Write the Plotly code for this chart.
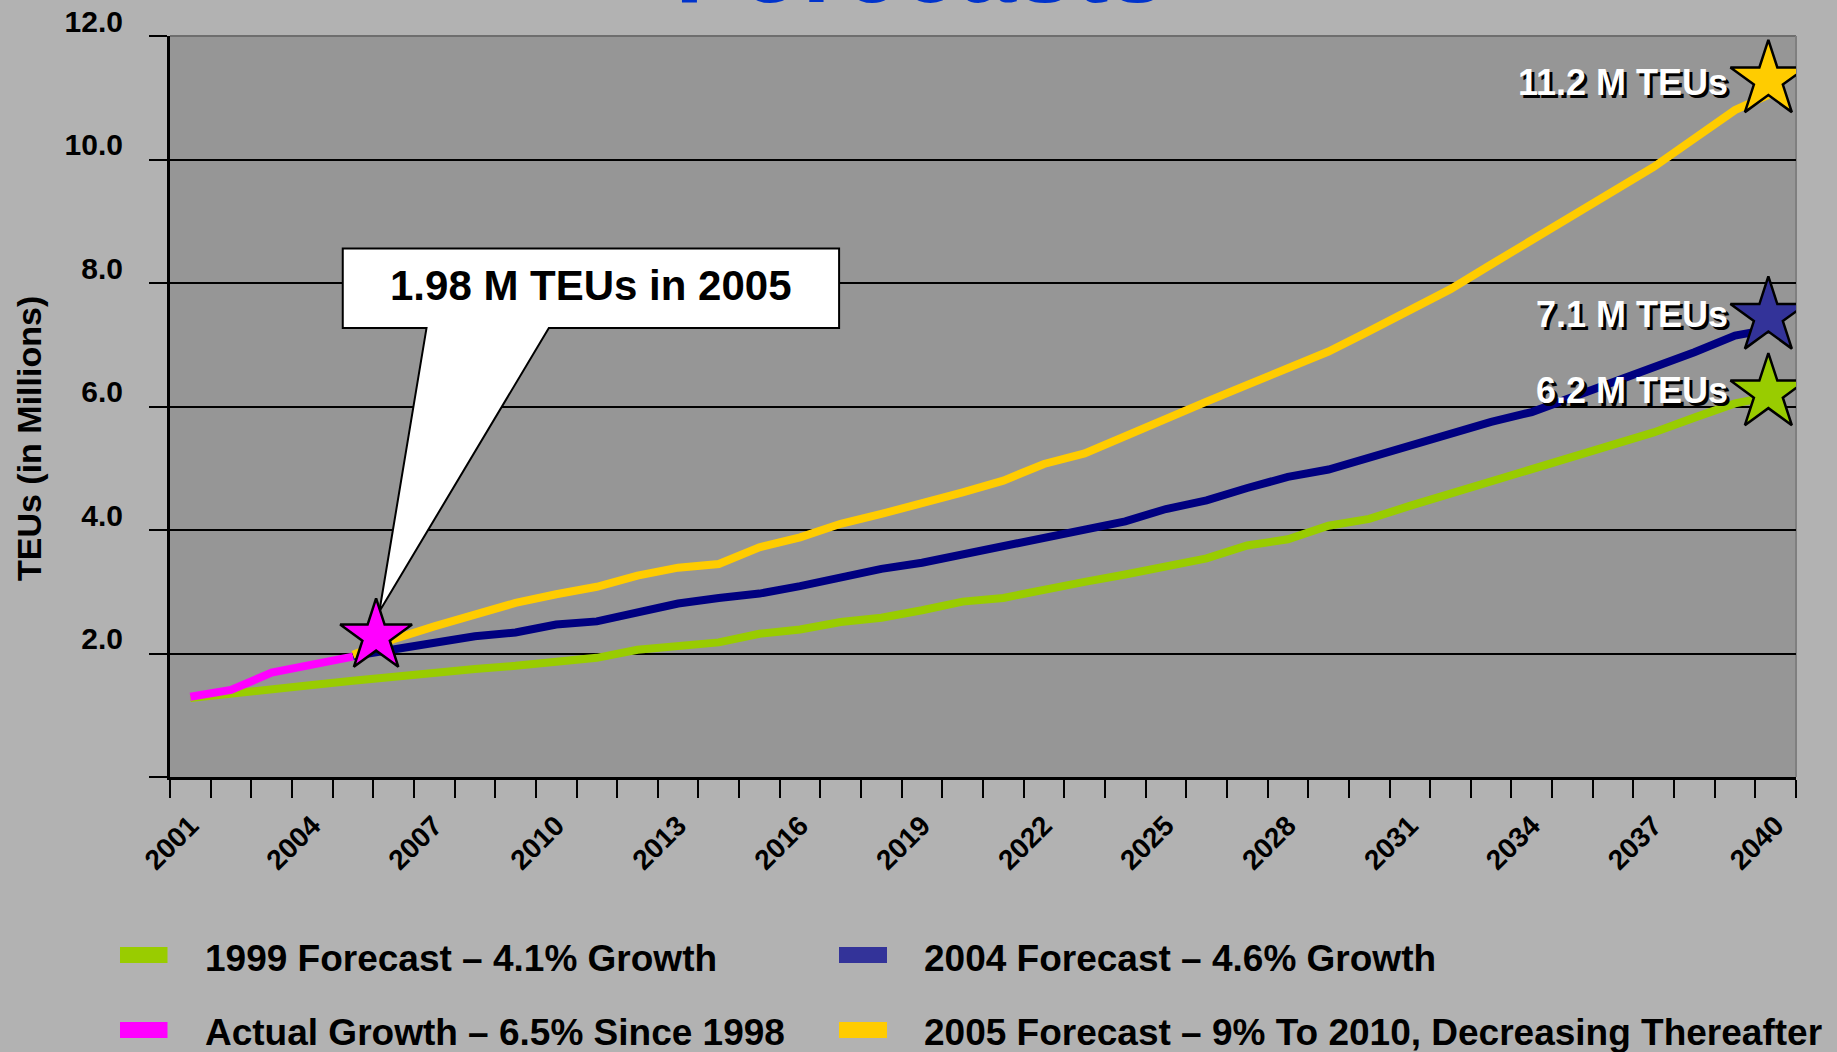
import plotly.graph_objects as go

# ---------------- data ----------------
years = list(range(2001, 2041))

actual_years = [2001, 2002, 2003, 2004, 2005]
actual_values = [1.30, 1.41, 1.69, 1.83, 1.95]

forecast_1999 = [1.28, 1.36, 1.42, 1.49, 1.56, 1.63, 1.68, 1.75, 1.80, 1.86,
                 1.93, 2.06, 2.13, 2.18, 2.32, 2.39, 2.51, 2.58, 2.70, 2.84,
                 2.90, 3.04, 3.16, 3.28, 3.41, 3.54, 3.75, 3.85, 4.07, 4.18,
                 4.39, 4.59, 4.79, 4.98, 5.18, 5.38, 5.58, 5.82, 6.05, 6.18]

forecast_years = list(range(2005, 2041))
forecast_2004 = [1.96, 2.06, 2.17, 2.28, 2.34, 2.47, 2.52, 2.67, 2.81, 2.90,
                 2.97, 3.09, 3.23, 3.37, 3.47, 3.61, 3.74, 3.89, 4.00, 4.14,
                 4.34, 4.48, 4.68, 4.86, 4.98, 5.18, 5.38, 5.56, 5.75, 5.91,
                 6.15, 6.39, 6.64, 6.88, 7.15, 7.27]
forecast_2005 = [1.98, 2.23, 2.44, 2.63, 2.82, 2.96, 3.08, 3.26, 3.39, 3.45,
                 3.72, 3.88, 4.10, 4.26, 4.42, 4.61, 4.80, 5.07, 5.24, 5.53,
                 5.81, 6.08, 6.35, 6.62, 6.89, 7.22, 7.56, 7.90, 8.30, 8.69,
                 9.07, 9.47, 9.88, 10.34, 10.80, 11.10]

tick_years = list(range(2001, 2041, 3))
tick_labels = [str(y) for y in tick_years]
boundary_ticks = [y - 0.5 for y in years] + [years[-1] + 0.5]

y_ticks = [0, 2, 4, 6, 8, 10, 12]
y_tick_labels = ["", "2.0", "4.0", "6.0", "8.0", "10.0", "12.0"]
y_grid = [2, 4, 6, 8, 10]

star_years = [2005.57, 2039.82, 2039.82, 2039.82]
star_values = [2.28, 11.29, 7.46, 6.22]
star_labels = ["", "11.2 M TEUs", "7.1 M TEUs", "6.2 M TEUs"]

callout_text = "1.98 M TEUs in 2005"
title_text = "Forecasts"
y_title = "TEUs (in Millions)"

legend_names = ["1999 Forecast \u2013 4.1% Growth",
                "Actual Growth \u2013 6.5% Since 1998",
                "2004 Forecast \u2013 4.6% Growth",
                "2005 Forecast \u2013 9% To 2010, Decreasing Thereafter"]

# ---------------- styles ----------------
GREEN = "#99CC00"
NAVY = "#000080"
BLUE_SW = "#333399"
YELLOW = "#FFCC00"
MAGENTA = "#FF00FF"
PAPER = "#b2b2b2"
PLOT = "#969696"
FONT = "Liberation Sans, Arial, Helvetica, sans-serif"

W, H = 1837, 1052
L, R, T, B = 170, 41, 36, 275
PW, PH = W - L - R, H - T - B


def px_x(px):
    return (px - L) / PW


def px_y(py):
    return (T + PH - py) / PH


fig = go.Figure()

fig.add_trace(go.Scatter(x=years, y=forecast_1999, mode="lines", name=legend_names[0],
                         line=dict(color=GREEN, width=8)))
fig.add_trace(go.Scatter(x=forecast_years, y=forecast_2004, mode="lines", name=legend_names[2],
                         line=dict(color=NAVY, width=8)))
fig.add_trace(go.Scatter(x=forecast_years, y=forecast_2005, mode="lines", name=legend_names[3],
                         line=dict(color=YELLOW, width=8)))
fig.add_trace(go.Scatter(x=actual_years, y=actual_values, mode="lines", name=legend_names[1],
                         line=dict(color=MAGENTA, width=8)))
fig.add_trace(go.Scatter(x=star_years, y=star_values, mode="markers", showlegend=False,
                         marker=dict(symbol="star", size=[54, 57, 57, 57], opacity=1,
                                     color=[MAGENTA, YELLOW, BLUE_SW, GREEN],
                                     line=dict(color="black", width=2.5))))

# callout box with pointer (data coordinates)
bx0, bx1 = 2004.75, 2016.96
by0, by1 = 7.27, 8.56
px0, px1 = 2006.81, 2009.82
tip_x, tip_y = star_years[0] + 0.08, star_values[0] + 0.40
path = (f"M {bx0},{by1} L {bx1},{by1} L {bx1},{by0} L {px1},{by0} "
        f"L {tip_x},{tip_y} L {px0},{by0} L {bx0},{by0} Z")
callout = dict(type="path", path=path, xref="x", yref="y",
               fillcolor="white", line=dict(color="black", width=2))
try:
    fig.add_shape(layer="between", **callout)
except Exception:
    fig.add_shape(layer="above", **callout)

fig.add_annotation(x=(bx0 + bx1) / 2, y=(by0 + by1) / 2, xref="x", yref="y",
                   text=callout_text, showarrow=False, yshift=3,
                   font=dict(family=FONT, size=42, color="black", weight="bold"))

# plot frame (top & right)
fig.add_shape(type="line", xref="paper", yref="paper", x0=0, x1=1, y0=1, y1=1,
              line=dict(color="#6e6e6e", width=2), layer="below")
fig.add_shape(type="line", xref="paper", yref="paper", x0=1, x1=1, y0=0, y1=1,
              line=dict(color="#7f7f7f", width=2), layer="below")

# star labels (white with black shadow)
label_yshift = [0, -3, 2, 2]
for sx, sy, lab, ys in zip(star_years, star_values, star_labels, label_yshift):
    if not lab:
        continue
    for col, dx, dy in (("black", 3, -3), ("white", 0, 0)):
        fig.add_annotation(x=sx, y=sy, xref="x", yref="y", text=lab, showarrow=False,
                           xanchor="right", yanchor="middle", xshift=-38 + dx, yshift=ys + dy,
                           font=dict(family=FONT, size=36, color=col, weight="bold"))

# partially visible title
fig.add_annotation(x=px_x(920), y=px_y(26), xref="paper", yref="paper", text=title_text,
                   showarrow=False, xanchor="center", yanchor="bottom",
                   font=dict(family=FONT, size=104, color="#0033CC", weight="bold"))

# y-axis title
fig.add_annotation(x=px_x(29), y=px_y(439), xref="paper", yref="paper", text=y_title,
                   showarrow=False, textangle=-90, xanchor="center", yanchor="middle",
                   font=dict(family=FONT, size=34, color="black", weight="bold"))

# manual legend
legend_cols = [GREEN, MAGENTA, BLUE_SW, YELLOW]
sw_x = [(120, 167.5), (120, 167.5), (839, 887), (839, 887)]
sw_y = [(947, 963), (1022, 1038), (947, 963), (1022, 1038)]
txt_x = [203, 203, 922, 922]
txt_y = [959, 1032, 959, 1032]
for name, col, (sx0, sx1), (sy0, sy1), tx, ty in zip(legend_names, legend_cols, sw_x, sw_y, txt_x, txt_y):
    fig.add_shape(type="rect", xref="paper", yref="paper",
                  x0=px_x(sx0), x1=px_x(sx1), y0=px_y(sy1), y1=px_y(sy0),
                  fillcolor=col, line=dict(width=0))
    fig.add_annotation(x=px_x(tx), y=px_y(ty), xref="paper", yref="paper", text=name,
                       showarrow=False, xanchor="left", yanchor="middle",
                       font=dict(family=FONT, size=37, color="black", weight="bold"))

fig.update_layout(
    width=W, height=H,
    margin=dict(l=L, r=R, t=T, b=B, pad=0, autoexpand=False),
    paper_bgcolor=PAPER, plot_bgcolor=PLOT,
    showlegend=False,
    font=dict(family=FONT, color="black"),
    xaxis=dict(range=[2000.5, 2040.5], tickmode="array", tickvals=tick_years, ticktext=tick_labels,
               automargin=False,
               tickangle=-45, ticks="outside", ticklen=18, tickcolor="rgba(0,0,0,0)",
               tickfont=dict(family=FONT, size=28, color="black", weight="bold"),
               showgrid=False, zeroline=False, showline=True, linecolor="black", linewidth=3,
               minor=dict(tickmode="array", tickvals=boundary_ticks, ticks="outside",
                          ticklen=18, tickwidth=2, tickcolor="black", showgrid=False)),
    yaxis=dict(range=[0, 12], tickmode="array", tickvals=y_ticks, ticktext=y_tick_labels,
               automargin=False,
               ticks="outside", ticklen=18, tickwidth=2, tickcolor="black",
               ticklabelstandoff=20, ticklabelshift=-15,
               tickfont=dict(family=FONT, size=30, color="black", weight="bold"),
               showgrid=False, zeroline=False, showline=True, linecolor="black", linewidth=3,
               minor=dict(tickmode="array", tickvals=y_grid, ticks="", showgrid=True,
                          gridcolor="black", gridwidth=2)),
)

fig.write_html("out.html", config={"displayModeBar": False},
               post_script="document.body.style.margin='0';document.body.style.overflow='hidden';")
